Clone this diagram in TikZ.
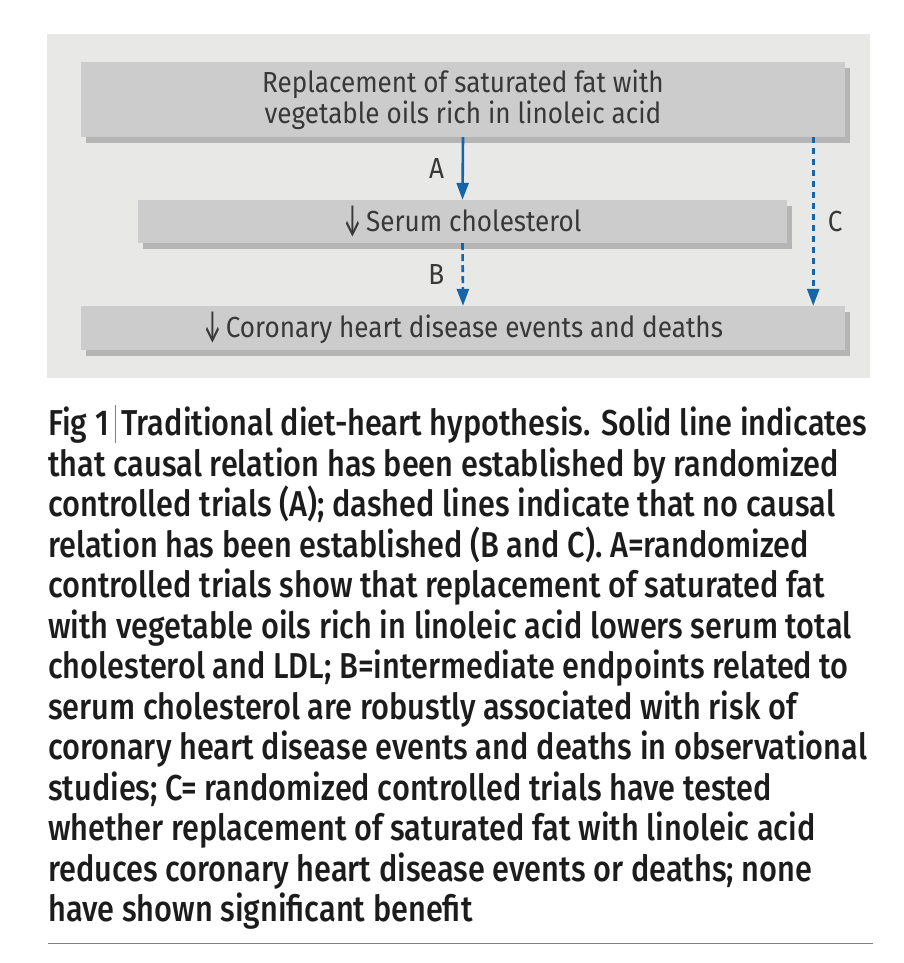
\documentclass[tikz,border=0pt]{standalone}
\usepackage{fontspec}
\usepackage{graphicx}
\setmainfont{Fira Sans}[FakeStretch=0.9]
\newfontfamily\capfont{Fira Sans}[UprightFont=* Medium,FakeStretch=0.853]
\usetikzlibrary{arrows.meta,shadows}
\definecolor{panelgray}{HTML}{E8E8E7}
\definecolor{boxgray}{HTML}{CCCCCC}
\definecolor{shadowgray}{HTML}{B5B5B5}
\definecolor{arrowblue}{HTML}{1565A8}
\definecolor{boxtext}{HTML}{383838}
\definecolor{captext}{HTML}{1C1C1C}
\tikzset{
	hypbox/.style={fill=boxgray,inner sep=0pt,align=center,text=boxtext,
		font=\fontsize{29}{31}\selectfont,
		drop shadow={shadow xshift=5pt,shadow yshift=-6pt,fill=shadowgray,opacity=1}},
	link/.style={arrowblue,line width=2.6pt,-{Triangle[width=12pt,length=17pt]}},
	linklabel/.style={text=boxtext,font=\fontsize{29}{31}\selectfont}
}
\newcommand{\downtick}{\raisebox{-0.14em}{\scalebox{0.8}[1.6]{↓}}\hspace{4pt}}
\begin{document}
\begin{tikzpicture}[x=1pt,y=-1pt]
			\useasboundingbox (0,0) rectangle (903,963);
			\fill[white] (0,0) rectangle (903,963);
			\fill[panelgray] (47,34) rectangle (870,378);
			%			Boxes
			\node[hypbox,minimum width=764pt,minimum height=75pt] (fat) at (463,99.5) {Replacement of saturated fat with\\vegetable oils rich in linoleic acid};
			\node[hypbox,minimum width=649pt,minimum height=43pt] (chol) at (462.5,221.5) {\downtick Serum cholesterol};
			\node[hypbox,minimum width=764pt,minimum height=44pt] (chd) at (463,328) {\downtick Coronary heart disease events and deaths};
			%			Arrows
			\draw[link] (fat.south) -- node[linklabel,left=14pt] {A} (chol.north);
			\draw[link,dash pattern=on 7pt off 4pt] (chol.south) -- node[linklabel,left=14pt] {B} (chd.north);
			\draw[link,dash pattern=on 6pt off 5pt] ([xshift=-32pt]fat.south east) -- node[linklabel,right=10pt] {C} ([xshift=-32pt]chd.north east);
			%			Caption
			\node[anchor=north west,inner sep=0pt,align=left,text=captext,font=\capfont\fontsize{36}{40.5}\selectfont] (caption) at (48,405)
			{Fig 1\,{\color{gray}\rule[-0.2em]{0.6pt}{1.05em}}\,Traditional diet-heart hypothesis. Solid line indicates\\
			that causal relation has been established by randomized\\
			controlled trials (A); dashed lines indicate that no causal\\
			relation has been established (B and C). A=randomized\\
			controlled trials show that replacement of saturated fat\\
			with vegetable oils rich in linoleic acid lowers serum total\\
			cholesterol and LDL; B=intermediate endpoints related to\\
			serum cholesterol are robustly associated with risk of\\
			coronary heart disease events and deaths in observational\\
			studies; C= randomized controlled trials have tested\\
			whether replacement of saturated fat with linoleic acid\\
			reduces coronary heart disease events or deaths; none\\
			have shown significant benefit};
			\draw[gray,line width=1pt] (48,943) -- (873,943);
		\end{tikzpicture}
\end{document}
